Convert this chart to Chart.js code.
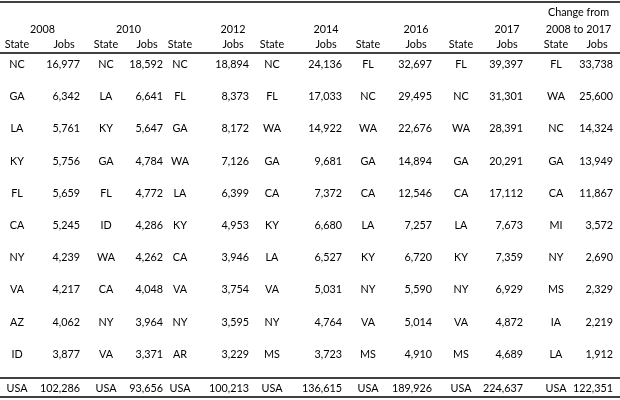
<!DOCTYPE html>
<html>
<head>
<meta charset="utf-8">
<script src="https://cdn.jsdelivr.net/npm/chart.js@4.4.1/dist/chart.umd.min.js"></script>
<style>
  html, body { margin: 0; background: #fff; }
  #wrap { width: 620px; height: 400px; }
</style>
</head>
<body>
<div id="wrap"><canvas id="table"></canvas></div>
<script>
// table data, ranked 1..10 in each year
const years = ['2008', '2010', '2012', '2014', '2016', '2017'];
const ranks = [1, 2, 3, 4, 5, 6, 7, 8, 9, 10];

const states2008 = ['NC', 'GA', 'LA', 'KY', 'FL', 'CA', 'NY', 'VA', 'AZ', 'ID'];
const jobs2008 = [16977, 6342, 5761, 5756, 5659, 5245, 4239, 4217, 4062, 3877];
const states2010 = ['NC', 'LA', 'KY', 'GA', 'FL', 'ID', 'WA', 'CA', 'NY', 'VA'];
const jobs2010 = [18592, 6641, 5647, 4784, 4772, 4286, 4262, 4048, 3964, 3371];
const states2012 = ['NC', 'FL', 'GA', 'WA', 'LA', 'KY', 'CA', 'VA', 'NY', 'AR'];
const jobs2012 = [18894, 8373, 8172, 7126, 6399, 4953, 3946, 3754, 3595, 3229];
const states2014 = ['NC', 'FL', 'WA', 'GA', 'CA', 'KY', 'LA', 'VA', 'NY', 'MS'];
const jobs2014 = [24136, 17033, 14922, 9681, 7372, 6680, 6527, 5031, 4764, 3723];
const states2016 = ['FL', 'NC', 'WA', 'GA', 'CA', 'LA', 'KY', 'NY', 'VA', 'MS'];
const jobs2016 = [32697, 29495, 22676, 14894, 12546, 7257, 6720, 5590, 5014, 4910];
const states2017 = ['FL', 'NC', 'WA', 'GA', 'CA', 'LA', 'KY', 'NY', 'VA', 'MS'];
const jobs2017 = [39397, 31301, 28391, 20291, 17112, 7673, 7359, 6929, 4872, 4689];
const statesChange = ['FL', 'WA', 'NC', 'GA', 'CA', 'MI', 'NY', 'MS', 'IA', 'LA'];
const jobsChange = [33738, 25600, 14324, 13949, 11867, 3572, 2690, 2329, 2219, 1912];

const usaLabel = 'USA';
const usaTotals = [102286, 93656, 100213, 136615, 189926, 224637, 122351];

const groups = [
  { head: ['', years[0]], states: states2008, jobs: jobs2008 },
  { head: ['', years[1]], states: states2010, jobs: jobs2010 },
  { head: ['', years[2]], states: states2012, jobs: jobs2012 },
  { head: ['', years[3]], states: states2014, jobs: jobs2014 },
  { head: ['', years[4]], states: states2016, jobs: jobs2016 },
  { head: ['', years[5]], states: states2017, jobs: jobs2017 },
  { head: ['Change from', '2008 to 2017'], states: statesChange, jobs: jobsChange }
];

// column layout (x units) and row layout (y units = rank)
const stateCol = [17, 106, 180, 272, 368, 461, 556];
const jobsCol = [80, 163, 249, 342, 432, 523, 613];
const headAnchor = ['mid', 'mid', 'jobs', 'jobs', 'jobs', 'jobs', 'mid'];
const headRows = [-0.6, -0.1, 0.38];
const usaRow = 11.06;
const rules = [-0.93, 0.67, 10.74, 11.33];

const FONT = '12px Lato';
const SQUEEZE = 0.9;  // narrower glyphs, closer to the original face
const fmt = n => n.toLocaleString('en-US');

const datasets = [];
groups.forEach((g, i) => {
  datasets.push({
    texts: g.states.concat([usaLabel]),
    align: 'center',
    data: ranks.concat([usaRow]).map(r => ({ x: stateCol[i], y: r }))
  });
  datasets.push({
    texts: g.jobs.map(fmt).concat([fmt(usaTotals[i])]),
    align: 'right',
    data: ranks.concat([usaRow]).map(r => ({ x: jobsCol[i], y: r }))
  });
});

function text(ctx, t, px, py, align) {
  ctx.save();
  ctx.translate(px, py);
  ctx.scale(SQUEEZE, 1);
  ctx.textAlign = align;
  ctx.fillText(t, 0, 0);
  ctx.restore();
}

const tableText = {
  id: 'tableText',
  afterDatasetsDraw(chart) {
    const { ctx, scales: { x, y }, chartArea } = chart;
    ctx.save();
    ctx.fillStyle = '#000';
    ctx.font = FONT;
    ctx.textBaseline = 'middle';

    // cells
    chart.data.datasets.forEach((ds, i) => {
      chart.getDatasetMeta(i).data.forEach((pt, j) => {
        text(ctx, ds.texts[j], pt.x, pt.y, ds.align);
      });
    });

    // headers
    groups.forEach((g, i) => {
      const sx = x.getPixelForValue(stateCol[i]);
      const jx = x.getPixelForValue(jobsCol[i]) - 16;
      const hx = headAnchor[i] === 'mid' ? (sx + jx) / 2 + 2 : jx;
      if (g.head[0]) text(ctx, g.head[0], hx, y.getPixelForValue(headRows[0]), 'center');
      text(ctx, g.head[1], hx, y.getPixelForValue(headRows[1]), 'center');
      text(ctx, 'State', sx, y.getPixelForValue(headRows[2]), 'center');
      text(ctx, 'Jobs', jx, y.getPixelForValue(headRows[2]), 'center');
    });

    // horizontal rules
    ctx.strokeStyle = '#000';
    ctx.lineWidth = 1.5;
    rules.forEach(r => {
      const py = Math.round(y.getPixelForValue(r));
      ctx.beginPath();
      ctx.moveTo(chartArea.left, py);
      ctx.lineTo(chartArea.right, py);
      ctx.stroke();
    });
    ctx.restore();
  }
};

new Chart(document.getElementById('table'), {
  type: 'scatter',
  data: { datasets },
  options: {
    responsive: true,
    maintainAspectRatio: false,
    animation: false,
    events: [],
    layout: { padding: 0 },
    elements: { point: { radius: 0, hoverRadius: 0 } },
    plugins: { legend: { display: false }, tooltip: { enabled: false } },
    scales: {
      x: { type: 'linear', display: false, min: 0, max: 620 },
      y: { type: 'linear', display: false, min: -0.99, max: 11.43, reverse: true }
    }
  },
  plugins: [tableText]
});
</script>
</body>
</html>
